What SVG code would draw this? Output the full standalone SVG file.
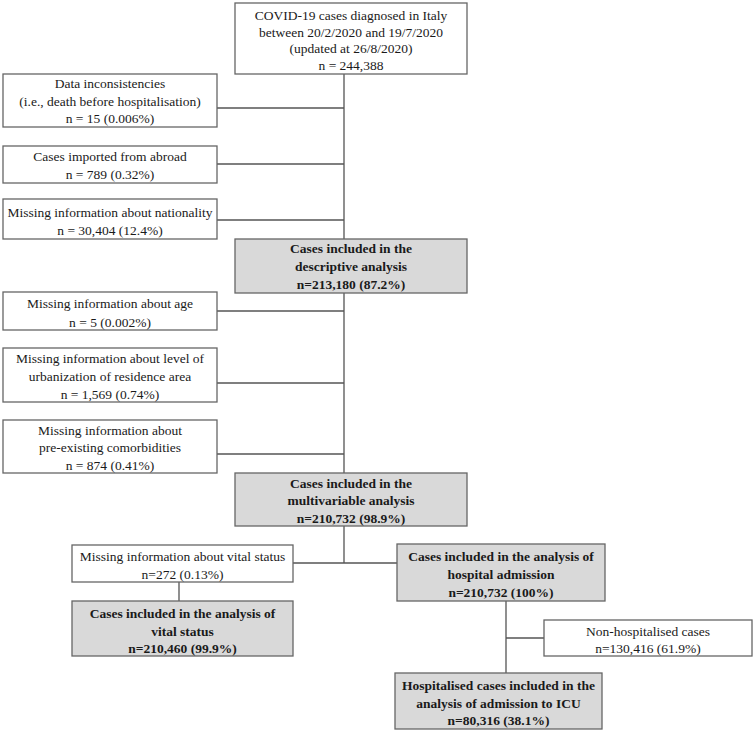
<svg xmlns="http://www.w3.org/2000/svg" width="755" height="731" viewBox="0 0 755 731">
<style>
.box{fill:#ffffff;stroke:#666666;stroke-width:1.3}
.grey{fill:#d9d9d9;stroke:#666666;stroke-width:1.3}
text{font-family:"Liberation Serif","Times New Roman",serif;font-size:13.5px;fill:#1a1a1a;text-anchor:middle}
.b{font-weight:bold}
.conn{stroke:#555555;stroke-width:1.3;fill:none}
</style>
<rect width="755" height="731" fill="#ffffff"/>
<g id="connectors">
<path class="conn" d="M344 74V239M344 293V473M344 526V563M217 108H344M217 164H344M217 220H344M217 311H344M217 383H344M217 454H344M293 563H397M179 582V601M506 601V673M506 638H544"/>
</g>
<g id="n_total">
<rect class="box" x="235" y="3" width="232" height="71"/>
<text x="351" y="20">COVID-19 cases diagnosed in Italy</text>
<text x="351" y="37">between 20/2/2020 and 19/7/2020</text>
<text x="351" y="53">(updated at 26/8/2020)</text>
<text x="351" y="70">n = 244,388</text>
</g>
<g id="n_incons">
<rect class="box" x="3" y="74" width="214" height="53"/>
<text x="110" y="88">Data inconsistencies</text>
<text x="110" y="106">(i.e., death before hospitalisation)</text>
<text x="110" y="123">n = 15 (0.006%)</text>
</g>
<g id="n_imported">
<rect class="box" x="3" y="146" width="214" height="37"/>
<text x="110" y="161">Cases imported from abroad</text>
<text x="110" y="179">n = 789 (0.32%)</text>
</g>
<g id="n_nationality">
<rect class="box" x="3" y="199" width="214" height="40"/>
<text x="110" y="217">Missing information about nationality</text>
<text x="110" y="235">n = 30,404 (12.4%)</text>
</g>
<g id="n_descriptive">
<rect class="grey" x="235" y="239" width="232" height="54"/>
<text class="b" x="351" y="253">Cases included in the</text>
<text class="b" x="351" y="271">descriptive analysis</text>
<text class="b" x="351" y="289">n=213,180 (87.2%)</text>
</g>
<g id="n_age">
<rect class="box" x="3" y="292" width="214" height="38"/>
<text x="110" y="308">Missing information about age</text>
<text x="110" y="327">n = 5 (0.002%)</text>
</g>
<g id="n_urban">
<rect class="box" x="3" y="348" width="214" height="54"/>
<text x="110" y="363">Missing information about level of</text>
<text x="110" y="381">urbanization of residence area</text>
<text x="110" y="399">n = 1,569 (0.74%)</text>
</g>
<g id="n_comorb">
<rect class="box" x="3" y="420" width="214" height="53"/>
<text x="110" y="435">Missing information about</text>
<text x="110" y="452">pre-existing comorbidities</text>
<text x="110" y="470">n = 874 (0.41%)</text>
</g>
<g id="n_multi">
<rect class="grey" x="235" y="473" width="232" height="53"/>
<text class="b" x="351" y="488">Cases included in the</text>
<text class="b" x="351" y="505">multivariable analysis</text>
<text class="b" x="351" y="523">n=210,732 (98.9%)</text>
</g>
<g id="n_vital_missing">
<rect class="box" x="72" y="545" width="221" height="37"/>
<text x="182.5" y="561">Missing information about vital status</text>
<text x="182.5" y="579">n=272 (0.13%)</text>
</g>
<g id="n_vital">
<rect class="grey" x="72" y="601" width="221" height="55"/>
<text class="b" x="182.5" y="618">Cases included in the analysis of</text>
<text class="b" x="182.5" y="636">vital status</text>
<text class="b" x="182.5" y="653">n=210,460 (99.9%)</text>
</g>
<g id="n_hospital">
<rect class="grey" x="397" y="544" width="208" height="57"/>
<text class="b" x="501" y="561">Cases included in the analysis of</text>
<text class="b" x="501" y="579">hospital admission</text>
<text class="b" x="501" y="597">n=210,732 (100%)</text>
</g>
<g id="n_nonhosp">
<rect class="box" x="544" y="620" width="208" height="36"/>
<text x="648" y="636">Non-hospitalised cases</text>
<text x="648" y="653">n=130,416 (61.9%)</text>
</g>
<g id="n_icu">
<rect class="grey" x="395" y="673" width="207" height="56"/>
<text class="b" x="498.5" y="690">Hospitalised cases included in the</text>
<text class="b" x="498.5" y="708">analysis of admission to ICU</text>
<text class="b" x="498.5" y="725">n=80,316 (38.1%)</text>
</g>
</svg>
